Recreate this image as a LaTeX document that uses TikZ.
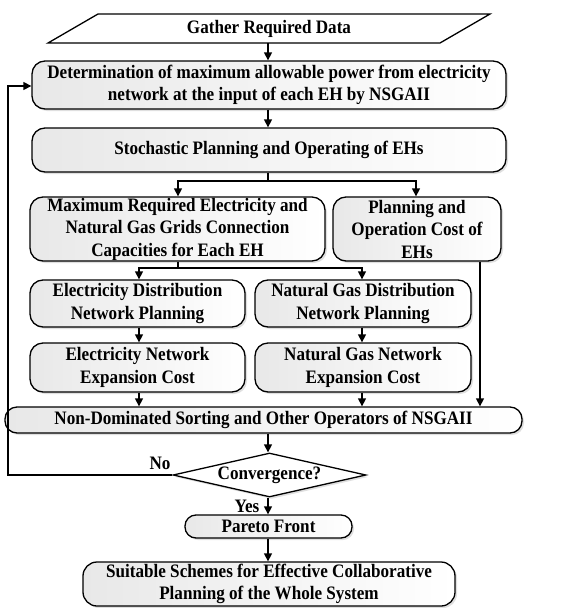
\documentclass[tikz,border=0pt]{standalone}
\usepackage{fontspec}
\setmainfont{Liberation Serif}[FakeStretch=0.9]
\usetikzlibrary{shapes.geometric,arrows.meta,shadows,calc}
\begin{document}
\begin{tikzpicture}[x=1pt,y=-1pt,
  font=\fontsize{19}{22.5}\selectfont\bfseries,
  shd/.style={drop shadow={shadow xshift=2pt,shadow yshift=-2pt,opacity=0.25,fill=gray}},
  box/.style={draw=black,line width=1.3pt,rounded corners=13pt,align=center,inner sep=0pt,
    left color=gray!18,middle color=gray!4,right color=white,shd},
  arr/.style={line width=1.3pt,-{Triangle[length=8pt,width=8pt]}},
  ln/.style={line width=1.3pt}]
\useasboundingbox (0,0) rectangle (569,608);
% parallelogram
\draw[line width=1.3pt,fill=white] (48,43)--(98,14)--(490,14)--(440,43)--cycle;
\node (gather) at (269,28.5) [minimum height=29pt,inner sep=0pt] {Gather Required Data};
\node[box,minimum width=474pt,minimum height=48pt] (b1) at (269,85)
  {Determination of maximum allowable power from electricity\\network at the input of each EH by NSGAII};
\node[box,minimum width=474pt,minimum height=44pt] (b2) at (269,150)
  {Stochastic Planning and Operating of EHs};
\node[box,minimum width=295pt,minimum height=64pt] (b3) at (177.5,229)
  {Maximum Required Electricity and\\Natural Gas Grids Connection\\Capacities for Each EH};
\node[box,minimum width=168pt,minimum height=64pt] (b4) at (417,229)
  {Planning and\\Operation Cost of\\EHs};
\node[box,minimum width=215pt,minimum height=47pt] (b5) at (137.5,303.5)
  {Electricity Distribution\\Network Planning};
\node[box,minimum width=216pt,minimum height=47pt] (b6) at (363,303.5)
  {Natural Gas Distribution\\Network Planning};
\node[box,minimum width=215pt,minimum height=49pt] (b7) at (137.5,367.5)
  {Electricity Network\\Expansion Cost};
\node[box,minimum width=216pt,minimum height=49pt] (b8) at (363,367.5)
  {Natural Gas Network\\Expansion Cost};
\node[box,rounded corners=12pt,minimum width=517pt,minimum height=26pt] (b9) at (263.5,420)
  {Non-Dominated Sorting and Other Operators of NSGAII};
\node[draw,diamond,aspect=4.4,line width=1.3pt,fill=white,minimum width=193pt,minimum height=44pt,inner sep=0pt,shd] (dec) at (269.5,475)
  {Convergence?};
\node[box,rounded corners=11pt,minimum width=167pt,minimum height=23pt] (pf) at (268.5,526.5)
  {Pareto Front};
\node[box,rounded corners=14pt,minimum width=372pt,minimum height=44pt] (b11) at (269,584)
  {Suitable Schemes for Effective Collaborative\\Planning of the Whole System};
% connectors
\coordinate (s1) at (268,181);
\coordinate (s2) at (178,268);
\coordinate (lp) at (8,475);
\coordinate (lq) at (8,86);
\draw[arr] (gather.south -| 268,0) -- (b1.north -| 268,0);
\draw[arr] (b1.south -| 268,0) -- (b2.north -| 268,0);
\draw[ln] (b2.south -| s1) -- (s1);
\draw[arr] (s1) -| (b3.north -| 178,0);
\draw[arr] (s1) -| (b4.north -| 416,0);
\draw[ln] (b3.south -| s2) -- (s2);
\draw[arr] (s2) -| (b5.north -| 139,0);
\draw[arr] (s2) -| (b6.north -| 362,0);
\draw[arr] (b5.south -| 139,0) -- (b7.north -| 139,0);
\draw[arr] (b6.south -| 362,0) -- (b8.north -| 362,0);
\draw[arr] (b7.south -| 139,0) -- (b9.north -| 139,0);
\draw[arr] (b8.south -| 362,0) -- (b9.north -| 362,0);
\draw[arr] (b4.south -| 480,0) -- (b9.north -| 480,0);
\draw[arr] (b9.south -| 268,0) -- (dec.north -| 268,0);
\draw[arr] (dec.south -| 268,0) -- (pf.north -| 268,0);
\draw[arr] (pf.south -| 268,0) -- (b11.north -| 268,0);
\draw[arr] (dec.west) -- (lp) -- (lq) -- (b1.west |- lq);
\node (no) at (160,463) {No};
\node (yes) at (247,506) {Yes};
\end{tikzpicture}
\end{document}
